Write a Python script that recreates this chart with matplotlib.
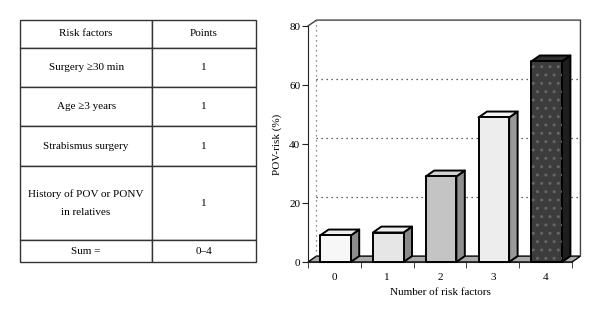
import numpy as np
import matplotlib
matplotlib.use('Agg')
import matplotlib.pyplot as plt
from matplotlib.patches import Polygon, Rectangle

plt.rcParams['font.family'] = ['Liberation Serif', 'DejaVu Serif']

# table data
table_header = ['Risk factors', 'Points']
risk_factors = ['Surgery \u226530 min', 'Age \u22653 years', 'Strabismus surgery',
                'History of POV or PONV\nin relatives', 'Sum =']
points = ['1', '1', '1', '1', '0\u20134']

# bar chart data
n_factors = [0, 1, 2, 3, 4]
pov_risk = [9, 10, 29, 49, 68]

front_colors = ['#f7f7f7', '#e6e6e6', '#c4c4c4', '#ededed', '#3c3c3c']
top_colors = ['#eeeeee', '#ececec', '#d2d2d2', '#f3f3f3', '#303030']
side_colors = ['#8c8c8c', '#8a8a8a', '#8f8f8f', '#9a9a9a', '#1e1e1e']

fig = plt.figure(figsize=(6, 3.18), dpi=100)
W, H = 600, 318

# ---- table ----
tax = fig.add_axes([20 / W, (H - 262) / H, 236 / W, 242 / H])
tax.axis('off')
cell_text = [[f, p] for f, p in zip(risk_factors, points)]
tbl = tax.table(cellText=cell_text, colLabels=table_header, cellLoc='center',
                bbox=[0, 0, 1, 1], colWidths=[0.56, 0.44])
tbl.auto_set_font_size(False)
tbl.set_fontsize(8)
row_heights = [28, 39, 39, 40, 74, 22]
for (r, c), cell in tbl.get_celld().items():
    cell.set_height(row_heights[r])
    cell.set_edgecolor('#333333')
    cell.set_linewidth(1.0)
    cell.get_text().set_linespacing(2.2)

# ---- 3D-looking bar chart ----
ax = fig.add_axes([308 / W, (H - 262) / H, 264 / W, 236 / H])
ax.set_xlim(-0.5, 4.5)
ax.set_ylim(0, 80)
dx, dy = 0.16, 2.0
lo, hi = -0.5, 4.5

# floor
ax.add_patch(Polygon([(lo, 0), (hi, 0), (hi + dx, dy), (lo + dx, dy)], closed=True,
                     facecolor='#ababab', edgecolor='black', lw=1.0, zorder=1, clip_on=False))
# back wall outline
ax.plot([lo, lo + dx, hi + dx, hi + dx], [80, 80 + dy, 80 + dy, dy], color='#444444',
        lw=1.0, clip_on=False, zorder=1)
ax.plot([lo + dx, lo + dx], [dy, 80 + dy], color='#666666', lw=0.9, ls=(0, (1, 3)),
        clip_on=False, zorder=1)
for g in [20, 40, 60]:
    ax.plot([lo + dx, hi + dx], [g + dy, g + dy], color='#333333', lw=0.9, ls=(0, (1, 3)),
            clip_on=False, zorder=1)

bw = 0.58
for i, (x, v) in enumerate(zip(n_factors, pov_risk)):
    x0, x1 = x - bw / 2 + 0.02, x + bw / 2 + 0.02
    ax.add_patch(Polygon([(x1, 0), (x1 + dx, dy), (x1 + dx, v + dy), (x1, v)], closed=True,
                         facecolor=side_colors[i], edgecolor='black', lw=1.4, zorder=3,
                         joinstyle='round', clip_on=False))
    ax.add_patch(Polygon([(x0, v), (x1, v), (x1 + dx, v + dy), (x0 + dx, v + dy)], closed=True,
                         facecolor=top_colors[i], edgecolor='black', lw=1.4, zorder=3,
                         joinstyle='round', clip_on=False))
    ax.add_patch(Rectangle((x0, 0), x1 - x0, v, facecolor=front_colors[i], edgecolor='black',
                           lw=1.4, zorder=4, joinstyle='round', clip_on=False))
    if i == 4:
        ax.add_patch(Rectangle((x0, 0), x1 - x0, v, fill=False, hatch='..', edgecolor='#666666',
                               lw=0, zorder=5))

for s in ['top', 'right']:
    ax.spines[s].set_visible(False)
ax.spines['left'].set_color('#222222')
ax.spines['bottom'].set_color('#222222')
ax.set_facecolor('none')

ax.set_yticks([0, 20, 40, 60, 80])
ax.set_xticks(n_factors)
ax.set_xticks(np.arange(-0.5, 5, 1), minor=True)
ax.tick_params(axis='x', which='major', length=0, pad=8, labelsize=8)
ax.tick_params(axis='x', which='minor', length=4, direction='out', color='#222222')
ax.tick_params(axis='y', length=4, direction='out', pad=1.5, labelsize=8, color='#222222')
ax.set_xlabel('Number of risk factors', fontsize=8)
ax.set_ylabel('POV-risk (%)', fontsize=8)
ax.xaxis.set_label_coords(0.5, -0.11)
ax.yaxis.set_label_coords(-0.1, 0.5)

fig.savefig('out.png', dpi=100)
